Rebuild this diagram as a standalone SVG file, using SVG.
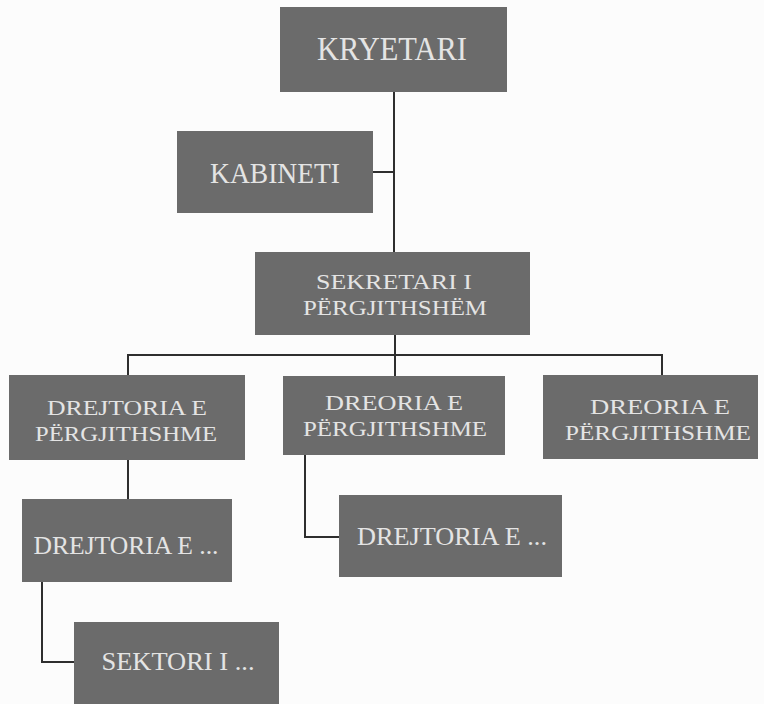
<svg xmlns="http://www.w3.org/2000/svg" width="764" height="704" viewBox="0 0 764 704">
<style>
.box{fill:#6b6b6b;}
.t{font-family:"Liberation Serif","Times New Roman",serif;fill:#e4e4e4;text-anchor:middle;}
.c{fill:none;stroke:#2e2e2e;stroke-width:2;}
</style>
<rect width="764" height="704" fill="#fcfcfc"/>
<g id="connectors">
<path class="c" d="M394 92V252"/>
<path class="c" d="M373 172H394"/>
<path class="c" d="M395 335V355"/>
<path class="c" d="M128 375V355H662V375"/>
<path class="c" d="M395 355V376"/>
<path class="c" d="M128 460V499"/>
<path class="c" d="M305 455V537H339"/>
<path class="c" d="M42 582V662H74"/>
</g>
<g id="kryetari">
<rect class="box" x="280" y="7" width="227" height="85"/>
<text class="t" x="392" y="60" font-size="33" textLength="150" lengthAdjust="spacingAndGlyphs">KRYETARI</text>
</g>
<g id="kabineti">
<rect class="box" x="177" y="131" width="196" height="82"/>
<text class="t" x="275" y="183" font-size="30" textLength="130" lengthAdjust="spacingAndGlyphs">KABINETI</text>
</g>
<g id="sekretari">
<rect class="box" x="255" y="252" width="275" height="83"/>
<text class="t" x="394" y="289" font-size="22" textLength="156" lengthAdjust="spacingAndGlyphs">SEKRETARI I</text>
<text class="t" x="395" y="315" font-size="22" textLength="184" lengthAdjust="spacingAndGlyphs">PËRGJITHSHËM</text>
</g>
<g id="drejtoria-pergjithshme-1">
<rect class="box" x="9" y="375" width="236" height="85"/>
<text class="t" x="127" y="415" font-size="22" textLength="160" lengthAdjust="spacingAndGlyphs">DREJTORIA E</text>
<text class="t" x="126" y="441" font-size="22" textLength="182" lengthAdjust="spacingAndGlyphs">PËRGJITHSHME</text>
</g>
<g id="dreoria-pergjithshme-2">
<rect class="box" x="283" y="376" width="222" height="79"/>
<text class="t" x="394" y="410" font-size="22" textLength="138" lengthAdjust="spacingAndGlyphs">DREORIA E</text>
<text class="t" x="395" y="436" font-size="22" textLength="184" lengthAdjust="spacingAndGlyphs">PËRGJITHSHME</text>
</g>
<g id="dreoria-pergjithshme-3">
<rect class="box" x="543" y="375" width="215" height="84"/>
<text class="t" x="660" y="414" font-size="22" textLength="140" lengthAdjust="spacingAndGlyphs">DREORIA E</text>
<text class="t" x="658" y="440" font-size="22" textLength="186" lengthAdjust="spacingAndGlyphs">PËRGJITHSHME</text>
</g>
<g id="drejtoria-left">
<rect class="box" x="22" y="499" width="210" height="83"/>
<text class="t" x="126" y="554" font-size="25" textLength="185" lengthAdjust="spacingAndGlyphs">DREJTORIA E ...</text>
</g>
<g id="drejtoria-middle">
<rect class="box" x="339" y="495" width="223" height="82"/>
<text class="t" x="452" y="545" font-size="25" textLength="190" lengthAdjust="spacingAndGlyphs">DREJTORIA E ...</text>
</g>
<g id="sektori">
<rect class="box" x="74" y="622" width="205" height="82"/>
<text class="t" x="178" y="670" font-size="25" textLength="153" lengthAdjust="spacingAndGlyphs">SEKTORI I ...</text>
</g>
</svg>
